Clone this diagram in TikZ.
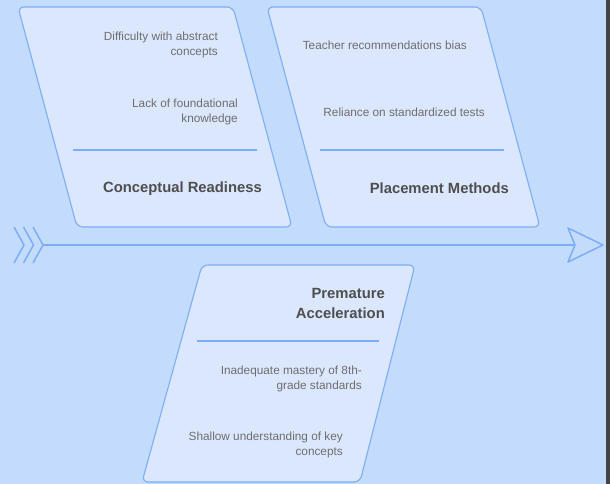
\documentclass[tikz,border=0pt]{standalone}
\usepackage{fontspec}
\setmainfont{Liberation Sans}
\definecolor{bgc}{HTML}{C3DCFD}
\definecolor{boxc}{HTML}{DBE7FD}
\definecolor{edgec}{HTML}{7DADF6}
\definecolor{smallc}{HTML}{6E6E6E}
\definecolor{titlec}{HTML}{4E4E4E}
\definecolor{stripc}{HTML}{444444}
\begin{document}
\begin{tikzpicture}[x=1pt,y=-1pt,
  box/.style={fill=boxc,draw=edgec,line width=1.1pt,rounded corners=6pt},
  sepline/.style={draw=edgec,line width=1.1pt},
  spine/.style={draw=edgec,line width=1.5pt,line join=round},
  small/.style={font=\fontsize{11.8}{14.5}\selectfont,text=smallc,align=right,inner sep=0pt,anchor=east},
  title/.style={font=\fontsize{14.8}{20}\selectfont\bfseries,text=titlec,align=right,inner sep=0pt,anchor=east}]
\useasboundingbox (0,0) rectangle (610,484);
\fill[bgc] (0,0) rectangle (610,484);
\fill[stripc] (606,0) rectangle (610,484);
% boxes
\path[box] (18,7) -- (233,7) -- (292,227) -- (77,227) -- cycle;
\path[box] (267,7) -- (481,7) -- (540,227) -- (326,227) -- cycle;
\path[box] (202,265) -- (415,265) -- (360,482) -- (142,482) -- cycle;
% separators
\coordinate (l1a) at (73,150); \coordinate (l1b) at (257,150);
\coordinate (l2a) at (320,150); \coordinate (l2b) at (504,150);
\coordinate (l3a) at (197,341); \coordinate (l3b) at (379,341);
\draw[sepline] (l1a) -- (l1b);
\draw[sepline] (l2a) -- (l2b);
\draw[sepline] (l3a) -- (l3b);
% spine
\coordinate (s0) at (43,245);
\coordinate (s1) at (575,245);
\draw[spine] (s0) -- (s1);
\coordinate (a1) at (568,228); \coordinate (a2) at (603,245); \coordinate (a3) at (568,262);
\draw[spine] (s1) -- (a1) -- (a2) -- (a3) -- cycle;
\foreach \x [count=\i] in {14,23.5,33}{
  \coordinate (c\i a) at (\x,227);
  \coordinate (c\i b) at (\x+10,245);
  \coordinate (c\i c) at (\x,263);
  \draw[spine] (c\i a) -- (c\i b) -- (c\i c);
}
% texts box 1
\node[small] (t11) at (218,45) {Difficulty with abstract\\concepts};
\node[small] (t12) at (238,112) {Lack of foundational\\knowledge};
\node[title] (h1) at (262,189) {Conceptual Readiness};
% texts box 2
\node[small] (t21) at (467,45) {Teacher recommendations bias};
\node[small] (t22) at (485,112) {Reliance on standardized tests};
\node[title] (h2) at (509,188) {Placement Methods};
% texts box 3
\node[title] (h3) at (385,303) {Premature\\Acceleration};
\node[small] (t31) at (362,379) {Inadequate mastery of 8th-\\grade standards};
\node[small] (t32) at (343,445) {Shallow understanding of key\\concepts};
\end{tikzpicture}
\end{document}
